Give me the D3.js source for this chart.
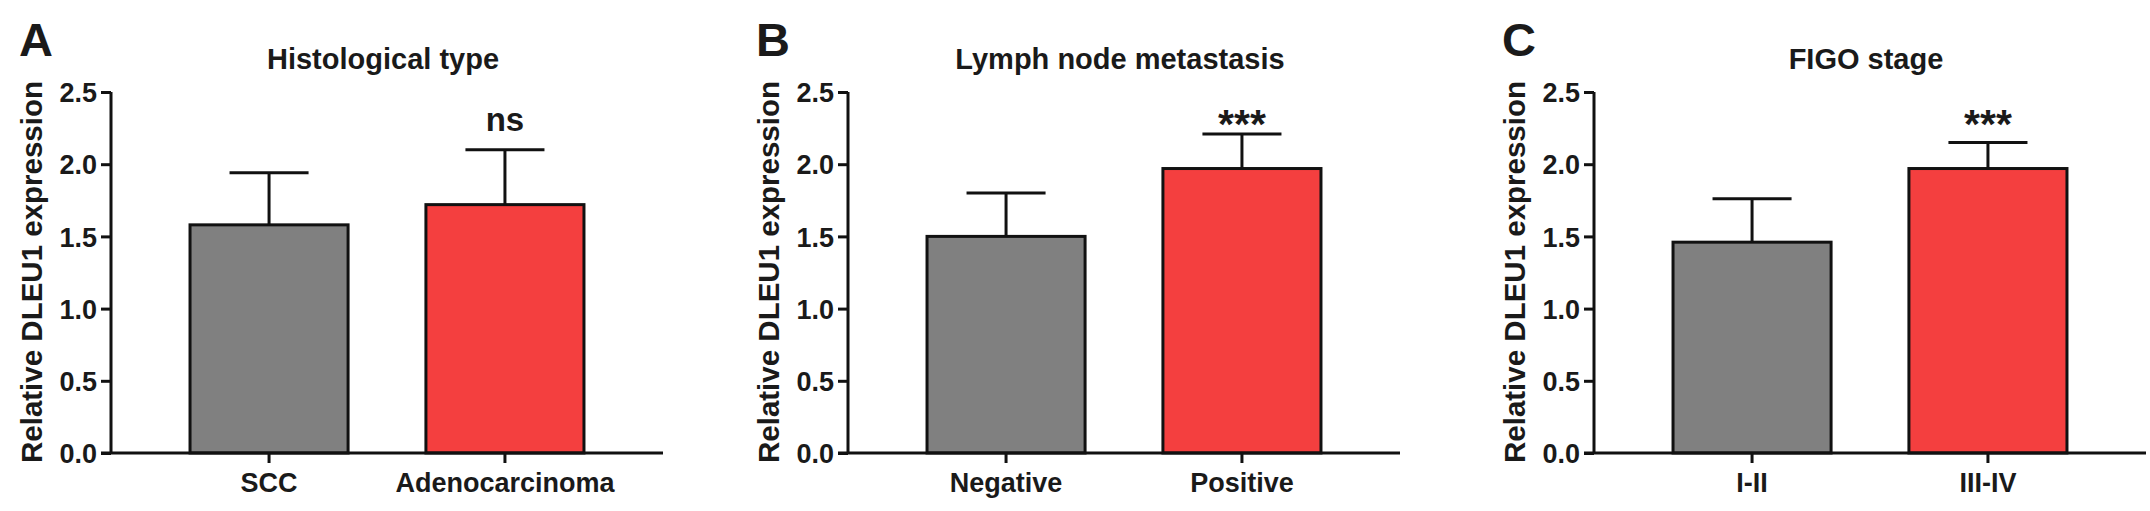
<!DOCTYPE html>
<html>
<head>
<meta charset="utf-8">
<script src="https://cdn.jsdelivr.net/npm/d3@7"></script>
<style>
  body { margin: 0; background: #fff; }
  text { font-family: "Liberation Sans", Arial, sans-serif; font-weight: bold; fill: #1a1a1a; }
</style>
</head>
<body>
<div id="chart"></div>
<script>
const panelLetters = ["A", "B", "C"];
const titles = ["Histological type", "Lymph node metastasis", "FIGO stage"];
const categories = [
  ["SCC", "Adenocarcinoma"],
  ["Negative", "Positive"],
  ["I-II", "III-IV"]
];
const means = [
  [1.58, 1.72],
  [1.50, 1.97],
  [1.46, 1.97]
];
const errors = [
  [0.36, 0.38],
  [0.30, 0.24],
  [0.30, 0.18]
];
const signif = ["ns", "***", "***"];
const yTicks = [0, 0.5, 1.0, 1.5, 2.0, 2.5];
const colors = ["#808080", "#f43f3f"];

const w = 2150;
const h = 511;
const axisX = [111, 848, 1594];
const plotW = 552;

const svg = d3.select("#chart").append("svg").attr("width", w).attr("height", h);

const y = d3.scaleLinear().domain([0, 2.5]).range([453, 92]);

panelLetters.forEach((letter, p) => {
  const x0 = axisX[p];
  const g = svg.append("g");
  const x = d3
    .scaleBand()
    .domain(categories[p])
    .range([x0, x0 + plotW])
    .paddingInner(0.33)
    .paddingOuter(0.335);

  // panel letter
  g.append("text")
    .attr("x", x0 - 92)
    .attr("y", 56)
    .style("font-size", "47px")
    .text(letter);

  // title
  g.append("text")
    .attr("x", x0 + plotW / 2 - 4)
    .attr("y", 69)
    .attr("text-anchor", "middle")
    .style("font-size", "29px")
    .text(titles[p]);

  // bars
  g.selectAll("rect")
    .data(means[p])
    .enter()
    .append("rect")
    .attr("x", (d, i) => x(categories[p][i]))
    .attr("y", (d) => y(d))
    .attr("width", x.bandwidth())
    .attr("height", (d) => y(0) - y(d))
    .attr("fill", (d, i) => colors[i])
    .attr("stroke", "#111")
    .attr("stroke-width", 3);

  // error bars (upper only)
  const eb = g.selectAll(".err")
    .data(means[p])
    .enter()
    .append("g")
    .attr("class", "err");
  eb.append("line")
    .attr("x1", (d, i) => x(categories[p][i]) + x.bandwidth() / 2)
    .attr("x2", (d, i) => x(categories[p][i]) + x.bandwidth() / 2)
    .attr("y1", (d) => y(d))
    .attr("y2", (d, i) => y(d + errors[p][i]))
    .attr("stroke", "#111")
    .attr("stroke-width", 3);
  eb.append("line")
    .attr("x1", (d, i) => x(categories[p][i]) + x.bandwidth() / 4)
    .attr("x2", (d, i) => x(categories[p][i]) + x.bandwidth() * 3 / 4)
    .attr("y1", (d, i) => y(d + errors[p][i]))
    .attr("y2", (d, i) => y(d + errors[p][i]))
    .attr("stroke", "#111")
    .attr("stroke-width", 3);

  // significance mark
  const sx = x(categories[p][1]) + x.bandwidth() / 2;
  g.append("text")
    .attr("x", sx)
    .attr("y", signif[p] === "ns" ? 131 : 138)
    .attr("text-anchor", "middle")
    .style("font-size", signif[p] === "ns" ? "33px" : "41px")
    .text(signif[p]);

  // y axis
  const yAxis = g.append("g")
    .attr("transform", "translate(" + x0 + ",0)")
    .call(d3.axisLeft(y).tickValues(yTicks).tickFormat(d3.format(".1f")).tickSize(10).tickPadding(4));
  yAxis.select(".domain").attr("stroke", "#111").attr("stroke-width", 3).attr("d", "M0," + y(2.5) + "V" + y(0));
  yAxis.selectAll(".tick line").attr("stroke", "#111").attr("stroke-width", 3);
  yAxis.selectAll(".tick text").style("font-size", "27px").attr("dy", "0.36em").attr("fill", "#1a1a1a");

  // x axis
  const xAxis = g.append("g")
    .attr("transform", "translate(0," + y(0) + ")")
    .call(d3.axisBottom(x).tickSize(10).tickPadding(10));
  xAxis.select(".domain").attr("stroke", "#111").attr("stroke-width", 3).attr("d", "M" + (x0 - 10) + ",0H" + (x0 + plotW));
  xAxis.selectAll(".tick line").attr("stroke", "#111").attr("stroke-width", 3);
  xAxis.selectAll(".tick text").style("font-size", "27px").attr("fill", "#1a1a1a");

  // y label
  g.append("text")
    .attr("transform", "translate(" + (x0 - 69) + "," + 272 + ") rotate(-90)")
    .attr("text-anchor", "middle")
    .style("font-size", "29.5px")
    .text("Relative DLEU1 expression");
});
</script>
</body>
</html>
